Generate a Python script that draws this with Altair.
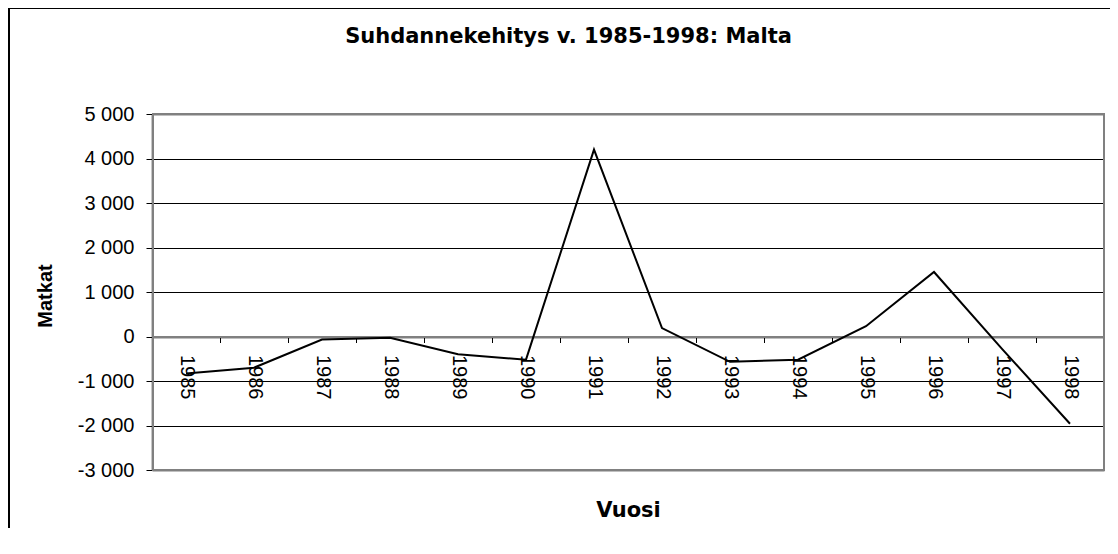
import altair as alt
import pandas as pd

TITLE = "Suhdannekehitys v. 1985-1998: Malta"
X_TITLE = "Vuosi"
Y_TITLE = "Matkat"
YEARS = ["1985", "1986", "1987", "1988", "1989", "1990", "1991",
         "1992", "1993", "1994", "1995", "1996", "1997", "1998"]
VALUES = [-830, -700, -70, -30, -400, -520, 4200,
          190, -570, -520, 230, 1450, -280, -1960]
Y_TICKS = [-3000, -2000, -1000, 0, 1000, 2000, 3000, 4000, 5000]

W, H = 952, 356
YMIN, YMAX = -3000, 5000

df = pd.DataFrame({"year": YEARS, "value": VALUES})

gray = "#808080"
edge_test = f"datum.value == {YMAX} || datum.value == {YMIN} || datum.value == 0"

zero_px = H * YMAX / (YMAX - YMIN)

x_enc = alt.X(
    "year:O",
    sort=YEARS,
    bandPosition=0.5,
    scale=alt.Scale(type="band", paddingInner=0, paddingOuter=0),
    axis=alt.Axis(
        title=X_TITLE,
        offset=-(H - zero_px),
        tickBand="extent",
        labelAngle=90,
        labelAlign="left",
        labelBaseline="middle",
        labelFont="Liberation Sans",
        labelFontSize=20,
        labelColor="black",
        labelPadding=12,
        labelOverlap=False,
        tickSize=6,
        tickColor="black",
        tickWidth=1,
        domainColor=gray,
        domainWidth=2,
        grid=False,
        titleX=W / 2,
        titleY=180,
        titleAlign="center",
        titleBaseline="alphabetic",
        titleFont="DejaVu Sans",
        titleFontSize=21,
        titleFontWeight="bold",
        titleColor="black",
    ),
)

y_enc = alt.Y(
    "value:Q",
    scale=alt.Scale(domain=[YMIN, YMAX], nice=False, zero=False),
    axis=alt.Axis(
        title=Y_TITLE,
        values=Y_TICKS,
        labelExpr="datum.value == 0 ? '0' : (datum.value < 0 ? '-' : '') + (abs(datum.value) / 1000) + ' 000'",
        labelFont="Liberation Sans",
        labelFontSize=20,
        labelColor="black",
        labelPadding=12,
        tickSize=6,
        tickColor="black",
        domainColor="#222222",
        domainWidth=1.5,
        grid=True,
        gridColor={"condition": {"test": edge_test, "value": gray}, "value": "black"},
        gridWidth={"condition": {"test": edge_test, "value": 2}, "value": 1},
        titleX=-106.5,
        titleY=181.5,
        titleAngle=270,
        titleAlign="center",
        titleBaseline="middle",
        titleFont="Liberation Sans",
        titleFontSize=20,
        titleFontWeight="bold",
        titleColor="black",
    ),
)

line = alt.Chart(df).mark_line(color="black", strokeWidth=2).encode(x=x_enc, y=y_enc)

one = pd.DataFrame({"t": [TITLE]})
title = alt.Chart(one).mark_text(
    font="DejaVu Sans", fontSize=21, fontWeight="bold", color="black",
    align="center", baseline="alphabetic",
).encode(text="t:N", x=alt.value(416.5), y=alt.value(-71))

border = alt.Chart(one).mark_rect(fillOpacity=0, stroke=gray, strokeWidth=2).encode(
    x=alt.value(1), x2=alt.value(W), y=alt.value(0), y2=alt.value(H)
)

frame = alt.Chart(one).mark_rect(
    fillOpacity=0, stroke="black", strokeWidth=2,
).encode(x=alt.value(-143), x2=alt.value(W + 40), y=alt.value(-106), y2=alt.value(H + 120))

chart = alt.layer(line, border, title, frame).properties(
    width=W, height=H,
    autosize=alt.AutoSizeParams(type="none"),
    padding={"left": 144, "top": 106, "right": 6, "bottom": 58},
).configure_view(stroke=gray, strokeWidth=2).configure(background="white")

chart.save("out.html", embed_options={"renderer": "svg", "actions": False})
